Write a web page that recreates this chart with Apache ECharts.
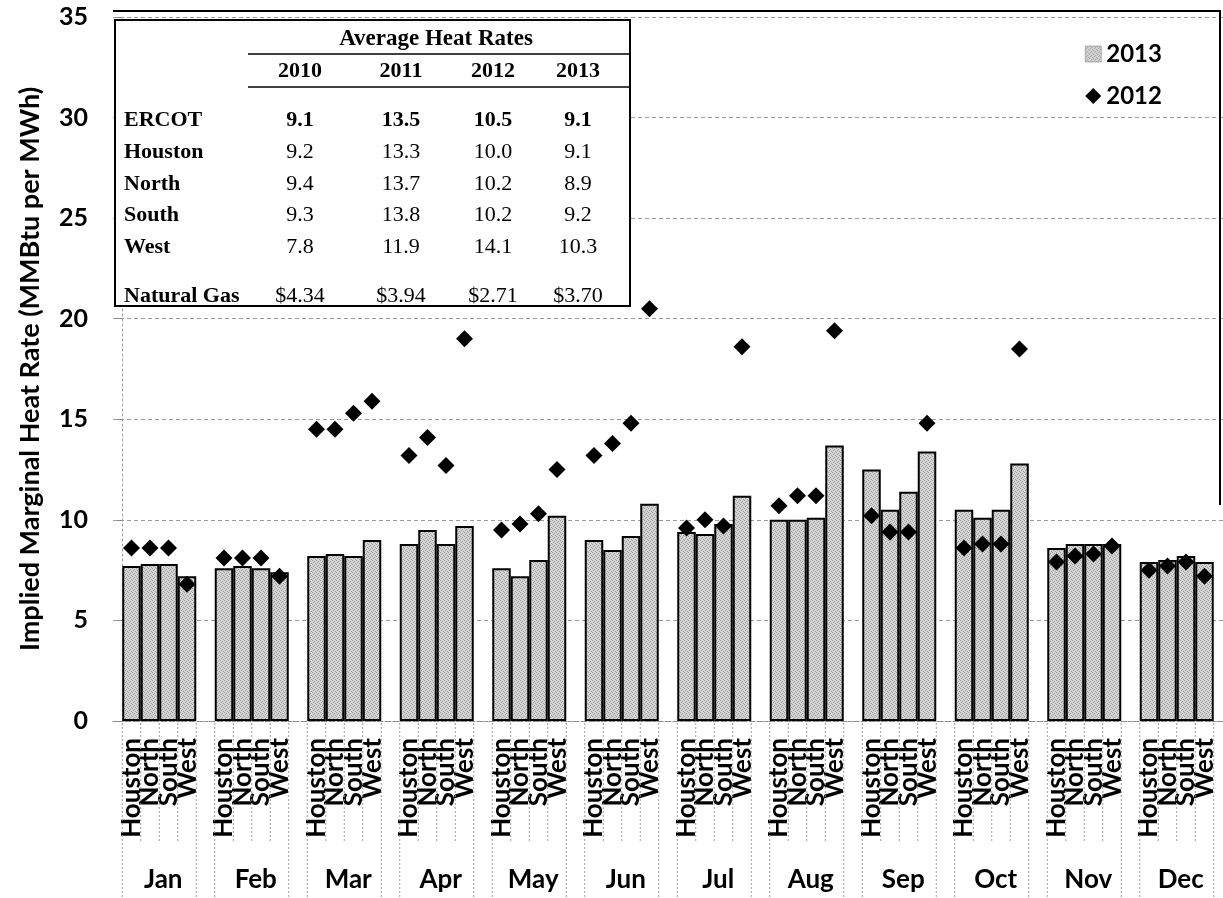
<!DOCTYPE html>
<html>
<head>
<meta charset="utf-8">
<script src="https://cdn.jsdelivr.net/npm/echarts@6/dist/echarts.min.js"></script>
<style>
  html, body { margin: 0; padding: 0; background: #fff; }
  #chart { width: 1223px; height: 898px; }
</style>
</head>
<body>
<div id="chart"></div>
<script>
// ---- data ----
const months = ['Jan', 'Feb', 'Mar', 'Apr', 'May', 'Jun', 'Jul', 'Aug', 'Sep', 'Oct', 'Nov', 'Dec'];
const regions = ['Houston', 'North', 'South', 'West'];

// 2013 monthly implied marginal heat rates (MMBtu per MWh), bars
const hr2013Houston = [7.7, 7.6, 8.2, 8.8, 7.6, 9.0, 9.4, 10.0, 12.5, 10.5, 8.6, 7.9];
const hr2013North   = [7.8, 7.7, 8.3, 9.5, 7.2, 8.5, 9.3, 10.0, 10.5, 10.1, 8.8, 8.0];
const hr2013South   = [7.8, 7.6, 8.2, 8.8, 8.0, 9.2, 9.8, 10.1, 11.4, 10.5, 8.8, 8.2];
const hr2013West    = [7.2, 7.4, 9.0, 9.7, 10.2, 10.8, 11.2, 13.7, 13.4, 12.8, 8.8, 7.9];

// 2012 monthly implied marginal heat rates, diamonds
const hr2012Houston = [8.6, 8.1, 14.5, 13.2, 9.5, 13.2, 9.6, 10.7, 10.2, 8.6, 7.9, 7.5];
const hr2012North   = [8.6, 8.1, 14.5, 14.1, 9.8, 13.8, 10.0, 11.2, 9.4, 8.8, 8.2, 7.7];
const hr2012South   = [8.6, 8.1, 15.3, 12.7, 10.3, 14.8, 9.7, 11.2, 9.4, 8.8, 8.3, 7.9];
const hr2012West    = [6.8, 7.2, 15.9, 19.0, 12.5, 20.5, 18.6, 19.4, 14.8, 18.5, 8.7, 7.2];

// y axis range and step
const yMin = 0, yMax = 35, yStep = 5;

// Average heat rate table
const tableTitle = 'Average Heat Rates';
const tableYears = ['2010', '2011', '2012', '2013'];
const tableRowNames = ['ERCOT', 'Houston', 'North', 'South', 'West', 'Natural Gas'];
const avgErcot   = ['9.1', '13.5', '10.5', '9.1'];
const avgHouston = ['9.2', '13.3', '10.0', '9.1'];
const avgNorth   = ['9.4', '13.7', '10.2', '8.9'];
const avgSouth   = ['9.3', '13.8', '10.2', '9.2'];
const avgWest    = ['7.8', '11.9', '14.1', '10.3'];
const avgGas     = ['$4.34', '$3.94', '$2.71', '$3.70'];

// ---- styling helpers ----
function makeTexture() {
  const c = document.createElement('canvas');
  c.width = 8; c.height = 8;
  const g = c.getContext('2d');
  g.fillStyle = '#d4d4d4';
  g.fillRect(0, 0, 8, 8);
  g.fillStyle = '#9c9c9c';
  const dots = [[0,0],[4,0],[2,1],[6,1],[1,2],[5,2],[3,3],[7,3],
                [0,4],[4,4],[2,5],[6,5],[1,6],[5,6],[3,7],[7,7]];
  dots.forEach(([x, y]) => g.fillRect(x, y, 1, 1));
  return c;
}
const barFill = { image: makeTexture(), repeat: 'repeat' };

const sans = 'Lato';
const serif = '"Liberation Serif", "Times New Roman", serif';

const bars2013 = [hr2013Houston, hr2013North, hr2013South, hr2013West];
const marks2012 = [hr2012Houston, hr2012North, hr2012South, hr2012West];

const series = [];
bars2013.forEach((vals) => {
  series.push({
    name: '2013',
    type: 'bar',
    xAxisIndex: 0,
    data: vals,
    barGap: 0,
    barCategoryGap: '20%',
    z: 2,
    itemStyle: { color: barFill, borderColor: '#000', borderWidth: 2 }
  });
});
marks2012.forEach((vals) => {
  series.push({
    name: '2012',
    type: 'pictorialBar',
    xAxisIndex: 0,
    data: vals,
    barGap: 0,
    barCategoryGap: '20%',
    symbol: 'diamond',
    symbolSize: [17, 17],
    symbolPosition: 'end',
    symbolOffset: [0, '-50%'],
    z: 4,
    itemStyle: { color: '#000' }
  });
});

// dotted separator lines under the axis, at each bar edge of every month block
series.push({
  name: 'separators',
  type: 'custom',
  xAxisIndex: 0,
  silent: true,
  z: 1,
  data: months.map((m, i) => [i]),
  renderItem: function (params, api) {
    const base = api.coord([api.value(0), 0]);
    const w = api.size([1, 0])[0];
    const bw = w * 0.2;
    const children = [];
    for (let j = 0; j <= 4; j++) {
      const x = base[0] - 2 * bw + j * bw;
      const long = (j === 0 || j === 4);
      children.push({
        type: 'line',
        shape: { x1: x, y1: base[1] + 2, x2: x, y2: base[1] + (long ? 180 : 120) },
        style: { stroke: '#9a9a9a', lineWidth: 1, lineDash: [2, 2] }
      });
    }
    return { type: 'group', children: children };
  }
});

// ---- table graphic ----
const TZ = 60;
const tbl = [];
tbl.push({ type: 'rect', z: TZ, shape: { x: 115, y: 20, width: 515, height: 286 },
  style: { fill: '#fff', stroke: '#000', lineWidth: 2 } });
tbl.push({ type: 'text', z: TZ + 1, x: 436, y: 39,
  style: { text: tableTitle, font: 'bold 23px ' + serif, fill: '#000', align: 'center', verticalAlign: 'middle' } });
tbl.push({ type: 'line', z: TZ + 1, shape: { x1: 248, y1: 54, x2: 630, y2: 54 }, style: { stroke: '#000', lineWidth: 1.5 } });
tbl.push({ type: 'line', z: TZ + 1, shape: { x1: 248, y1: 87, x2: 630, y2: 87 }, style: { stroke: '#000', lineWidth: 1.5 } });
const colX = [300, 401, 493, 578];
tableYears.forEach((yr, i) => {
  tbl.push({ type: 'text', z: TZ + 1, x: colX[i], y: 71,
    style: { text: yr, font: 'bold 22px ' + serif, fill: '#000', align: 'center', verticalAlign: 'middle' } });
});
const rowY = [120, 152, 184, 215, 247, 296];
const rowVals = [avgErcot, avgHouston, avgNorth, avgSouth, avgWest, avgGas];
tableRowNames.forEach((nm, r) => {
  tbl.push({ type: 'text', z: TZ + 1, x: 124, y: rowY[r],
    style: { text: nm, font: 'bold 22px ' + serif, fill: '#000', align: 'left', verticalAlign: 'middle' } });
  rowVals[r].forEach((v, c) => {
    tbl.push({ type: 'text', z: TZ + 1, x: colX[c], y: rowY[r],
      style: { text: v, font: (r === 0 ? 'bold ' : '') + '22px ' + serif, fill: '#000', align: 'center', verticalAlign: 'middle' } });
  });
});

const chart = echarts.init(document.getElementById('chart'), null, { renderer: 'canvas' });
chart.setOption({
  animation: false,
  backgroundColor: '#fff',
  grid: { left: 113, right: -13, top: 17, bottom: 177, containLabel: false },
  legend: {
    orient: 'vertical',
    left: 1080,
    top: 35,
    itemWidth: 16,
    itemHeight: 16,
    itemGap: 14,
    selectedMode: false,
    textStyle: { fontFamily: sans, fontWeight: 'bold', fontSize: 24, color: '#000', lineHeight: 28 },
    data: [
      { name: '2013', icon: 'rect', itemStyle: { color: barFill, borderColor: '#777', borderWidth: 0.5 } },
      { name: '2012', icon: 'diamond', itemStyle: { color: '#000' } }
    ]
  },
  xAxis: [
    {
      type: 'category',
      position: 'bottom',
      data: months,
      axisLine: { show: true, lineStyle: { color: '#888', type: [2, 2], width: 1 } },
      axisTick: { show: false },
      axisLabel: {
        interval: 0,
        rotate: 90,
        margin: 17,
        formatter: function () { return regions.join('\n'); },
        fontFamily: sans,
        fontWeight: 'bold',
        fontSize: 26,
        lineHeight: 18.7,
        color: '#000',
        padding: [8, 0, 0, 0]
      },
      splitLine: { show: false }
    },
    {
      type: 'category',
      position: 'bottom',
      data: months,
      axisLine: { show: false },
      axisTick: { show: false },
      axisLabel: {
        interval: 0,
        margin: 146,
        fontFamily: sans,
        fontWeight: 'bold',
        fontSize: 26,
        color: '#000',
        padding: [0, 0, 0, 8]
      }
    }
  ],
  yAxis: {
    type: 'value',
    min: yMin,
    max: yMax,
    interval: yStep,
    offset: -9,
    name: 'Implied Marginal Heat Rate (MMBtu per MWh)',
    nameLocation: 'middle',
    nameGap: 78,
    nameTextStyle: { fontFamily: sans, fontWeight: 'bold', fontSize: 27, color: '#000' },
    axisLine: { show: true, lineStyle: { color: '#999', type: [2, 3], width: 1 } },
    axisTick: { show: true, length: 5, lineStyle: { color: '#888' } },
    axisLabel: { margin: 34, fontFamily: sans, fontWeight: 'bold', fontSize: 25, color: '#000' },
    splitLine: { show: true, lineStyle: { color: '#9a9a9a', type: [4, 3], width: 1 } }
  },
  graphic: [
    { type: 'line', z: TZ, shape: { x1: 113, y1: 11, x2: 1221, y2: 11 }, style: { stroke: '#000', lineWidth: 2 } },
    { type: 'line', z: TZ, shape: { x1: 1220, y1: 11, x2: 1220, y2: 505 }, style: { stroke: '#000', lineWidth: 2 } },
    { type: 'group', z: TZ, children: tbl }
  ],
  series: series
});
</script>
</body>
</html>
